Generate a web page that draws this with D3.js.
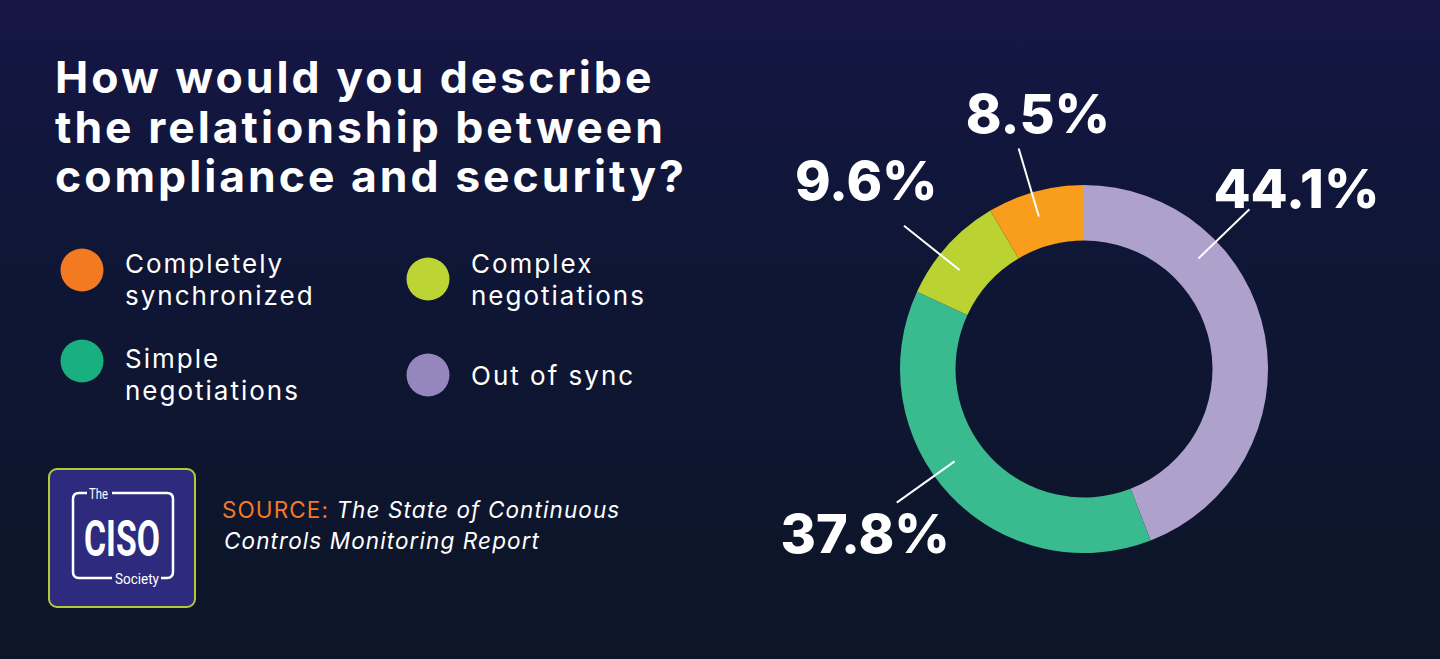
<!DOCTYPE html>
<html>
<head>
<meta charset="utf-8">
<script src="https://cdn.jsdelivr.net/npm/d3@7"></script>
<style>
  html, body { margin: 0; padding: 0; background: #0d1527; }
  svg { display: block; }
</style>
</head>
<body>
<div id="chart-container"></div>
<script>
// chart values
let categories = ["Out of sync", "Simple negotiations", "Complex negotiations", "Completely synchronized"];
let values = [44.1, 37.8, 9.6, 8.5];
let valueLabels = ["44.1%", "37.8%", "9.6%", "8.5%"];
let sliceColors = ["#aea2cd", "#3abb8f", "#bad332", "#f89d1c"];
let legendColors = ["#9586be", "#19b07f", "#bdd534", "#f47a22"];
// legend lines per category (wrapped as in the picture)
let legendLines = [["Out of sync"], ["Simple", "negotiations"], ["Complex", "negotiations"], ["Completely", "synchronized"]];
// annotation placement (degrees clockwise from 12 o'clock)
let leaderAngles = [46, 234.5, 308.5, 343.5];
let labelAngles = [49.6, 233, 310.9, 349.8];
let labelRadius = [279, 274, 288, 260];

let titleLines = ["How would you describe", "the relationship between", "compliance and security?"];

let width = 1440, height = 659;
let divId = "chart-container";

let svg = d3.select("#" + divId)
    .append("svg")
    .attr("width", width)
    .attr("height", height);

// background
let defs = svg.append("defs");
let grad = defs.append("linearGradient")
    .attr("id", "bg")
    .attr("x1", 0).attr("y1", 0).attr("x2", 0).attr("y2", 1);
grad.append("stop").attr("offset", "0%").attr("stop-color", "#161645");
grad.append("stop").attr("offset", "35%").attr("stop-color", "#0f1637");
grad.append("stop").attr("offset", "100%").attr("stop-color", "#0d1527");
svg.append("rect").attr("width", width).attr("height", height).attr("fill", "url(#bg)");

// title
let title = svg.append("text")
    .attr("x", 55)
    .attr("y", 93)
    .style("font-family", "Inter, sans-serif")
    .style("font-weight", "700")
    .style("font-size", "44.5px")
    .style("letter-spacing", "3px")
    .style("fill", "#ffffff");
titleLines.forEach((line, i) => {
    title.append("tspan").attr("x", 55).attr("dy", i === 0 ? 0 : 49.5).text(line);
});

// legend: grid of 2 columns
let legendOrder = [3, 2, 1, 0];
let legendCols = [82, 428];
let legendCircleY = [[270, 279], [361, 375]];
let legendTextY = [[273, 273], [368, 385]];
legendOrder.forEach((catIdx, i) => {
    let col = i % 2, row = Math.floor(i / 2);
    let cx = legendCols[col];
    let g = svg.append("g").attr("class", "legend-item");
    g.append("circle")
        .attr("cx", cx)
        .attr("cy", legendCircleY[row][col])
        .attr("r", 21.5)
        .attr("fill", legendColors[catIdx]);
    let t = g.append("text")
        .attr("x", cx + 43)
        .attr("y", legendTextY[row][col])
        .style("font-family", "Inter, sans-serif")
        .style("font-size", "26px")
        .style("letter-spacing", "2px")
        .style("fill", "#ffffff");
    legendLines[catIdx].forEach((line, j) => {
        t.append("tspan").attr("x", cx + 43).attr("dy", j === 0 ? 0 : 32).text(line);
    });
});

// logo
let logo = svg.append("g").attr("transform", "translate(48,468)");
logo.append("rect")
    .attr("x", 1).attr("y", 1)
    .attr("width", 146).attr("height", 138)
    .attr("rx", 8)
    .attr("fill", "#2e2b7e")
    .attr("stroke", "#b3c935")
    .attr("stroke-width", 2);
// white frame with gaps for "The" and "Society"
let frame = d3.path();
frame.moveTo(39, 25);
frame.lineTo(31, 25);
frame.quadraticCurveTo(25, 25, 25, 31);
frame.lineTo(25, 104);
frame.quadraticCurveTo(25, 110, 31, 110);
frame.lineTo(64, 110);
frame.moveTo(113, 110);
frame.lineTo(119, 110);
frame.quadraticCurveTo(125, 110, 125, 104);
frame.lineTo(125, 31);
frame.quadraticCurveTo(125, 25, 119, 25);
frame.lineTo(64, 25);
logo.append("path")
    .attr("d", frame.toString())
    .attr("fill", "none")
    .attr("stroke", "#ffffff")
    .attr("stroke-width", 2.5);
logo.append("text")
    .attr("x", 41).attr("y", 31)
    .attr("textLength", 19).attr("lengthAdjust", "spacingAndGlyphs")
    .style("font-family", "'Roboto', sans-serif")
    .style("font-size", "15px")
    .style("fill", "#ffffff")
    .text("The");
logo.append("text")
    .attr("x", 36).attr("y", 88)
    .attr("textLength", 76).attr("lengthAdjust", "spacingAndGlyphs")
    .style("font-family", "'Roboto', sans-serif")
    .style("font-weight", "700")
    .style("font-size", "50px")
    .style("fill", "#ffffff")
    .text("CISO");
logo.append("text")
    .attr("x", 67).attr("y", 116)
    .attr("textLength", 44).attr("lengthAdjust", "spacingAndGlyphs")
    .style("font-family", "'Roboto', sans-serif")
    .style("font-size", "15px")
    .style("fill", "#ffffff")
    .text("Society");

// source
let src = svg.append("text")
    .attr("x", 222)
    .attr("y", 518)
    .style("font-family", "Inter, sans-serif")
    .style("font-size", "22.5px")
    .style("letter-spacing", "1.1px")
    .style("fill", "#ffffff");
src.append("tspan").style("fill", "#f47a22").text("SOURCE: ");
src.append("tspan").style("font-style", "italic").text("The State of Continuous");
src.append("tspan").attr("x", 224).attr("dy", 31).style("font-style", "italic").text("Controls Monitoring Report");

// donut
let cx = 1084, cy = 369;
let rOuter = 184, rInner = 128.5;
let pie = d3.pie().sort(null).value(d => d);
let arcs = pie(values);
let arc = d3.arc().innerRadius(rInner).outerRadius(rOuter);
let donut = svg.append("g").attr("transform", "translate(" + cx + "," + cy + ")");
donut.selectAll("path.slice")
    .data(arcs)
    .enter()
    .append("path")
    .attr("class", "slice")
    .attr("d", arc)
    .attr("fill", (d, i) => sliceColors[i]);

function polar(angleDeg, r) {
    let a = angleDeg * Math.PI / 180;
    return [Math.sin(a) * r, -Math.cos(a) * r];
}

// leader lines
donut.selectAll("line.leader")
    .data(arcs)
    .enter()
    .append("line")
    .attr("class", "leader")
    .attr("x1", (d, i) => polar(leaderAngles[i], 159)[0])
    .attr("y1", (d, i) => polar(leaderAngles[i], 159)[1])
    .attr("x2", (d, i) => polar(leaderAngles[i], 230)[0])
    .attr("y2", (d, i) => polar(leaderAngles[i], 230)[1])
    .attr("stroke", "#ffffff")
    .attr("stroke-width", 2);

// value labels
donut.selectAll("text.value")
    .data(arcs)
    .enter()
    .append("text")
    .attr("class", "value")
    .attr("x", (d, i) => polar(labelAngles[i], labelRadius[i])[0])
    .attr("y", (d, i) => polar(labelAngles[i], labelRadius[i])[1])
    .attr("dy", "0.36em")
    .style("text-anchor", "middle")
    .style("font-family", "Inter, sans-serif")
    .style("font-weight", "800")
    .style("font-size", "54px")
    .style("fill", "#ffffff")
    .text((d, i) => valueLabels[i]);
</script>
</body>
</html>
